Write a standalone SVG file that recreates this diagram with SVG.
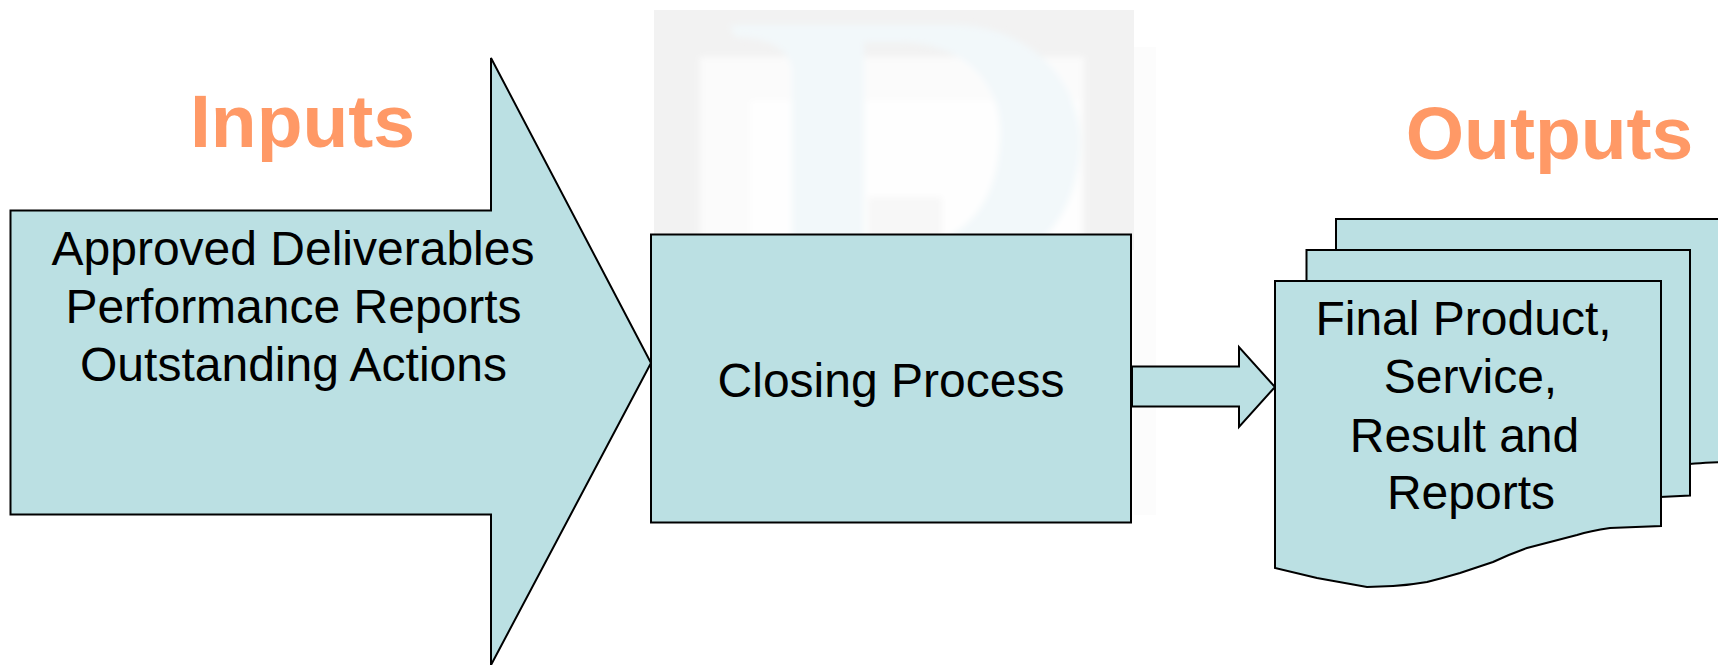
<svg xmlns="http://www.w3.org/2000/svg" width="1718" height="665" viewBox="0 0 1718 665">
<style>
.s{fill:#BBE0E3;stroke:#000;stroke-width:2;stroke-linejoin:miter}
.t{font-family:"Liberation Sans",Arial,sans-serif;font-size:48px;fill:#000;text-anchor:middle}
.h{font-family:"Liberation Sans",Arial,sans-serif;font-size:75px;font-weight:bold;fill:#FF9966;text-anchor:middle}
</style>
<defs><filter id="b" x="-5%" y="-5%" width="110%" height="110%"><feGaussianBlur stdDeviation="3"/></filter></defs>
<rect width="1718" height="665" fill="#fff"/>
<g id="watermark">
<rect x="1134" y="47" width="22" height="468" fill="#fcfcfc"/>
<rect x="654" y="10" width="480" height="240" fill="#f2f2f2"/>
<g filter="url(#b)">
<rect x="700" y="57" width="384" height="190" fill="#fbfbfb"/>
<rect x="750" y="100" width="330" height="140" fill="#fefefe"/>
<rect x="868" y="197" width="74" height="50" fill="#f7f7f7"/>
<path d="M730,25 L960,25 C1040,30 1080,90 1080,140 C1080,190 1060,225 1040,240 L940,240 C990,220 1000,170 1000,130 C1000,80 960,42 900,42 L864,42 L864,240 792,240 792,70 C790,45 760,37 735,37 Z" fill="#f2f8fa"/>
</g>
</g>
<g id="connectors">
<path id="process-to-outputs" class="s" d="M1132,366.500 H1239 V347 L1275,387 1239,427 V406.500 H1132 Z"/>
</g>
<g id="outputs-title"><text class="h" x="1549.500" y="159">Outputs</text></g>
<g id="doc-back"><path class="s" d="M1336,219 H1730 V462 C1700,462 1695,464 1690,464 H1336 Z"/></g>
<g id="doc-middle"><path class="s" d="M1306.500,250 H1690 V495.500 L1660,497 H1306.500 Z"/></g>
<g id="doc-front">
<path class="s" d="M1275,281 H1661 V526 L1610,528 Q1590,531 1577,535 L1527,548 Q1510,554 1493,562 L1460,573 Q1443,578 1427,582 Q1410,585 1393,586 L1367,587 L1317,578 L1275,568 Z"/>
<text class="t" x="1463.500" y="335">Final Product,</text>
<text class="t" x="1470.500" y="393">Service,</text>
<text class="t" x="1464.500" y="452">Result and</text>
<text class="t" x="1471" y="509">Reports</text>
</g>
<g id="inputs">
<path class="s" d="M10.500,210.500 H491 V58 L651,363 491,665 V514.500 H10.500 Z"/>
<text class="t" x="293" y="265">Approved Deliverables</text>
<text class="t" x="293.500" y="323">Performance Reports</text>
<text class="t" x="293.500" y="381">Outstanding Actions</text>
</g>
<g id="inputs-title"><text class="h" x="302.500" y="147">Inputs</text></g>
<g id="closing-process">
<rect class="s" x="651" y="234.500" width="480" height="288"/>
<text class="t" x="891" y="397">Closing Process</text>
</g>
</svg>
